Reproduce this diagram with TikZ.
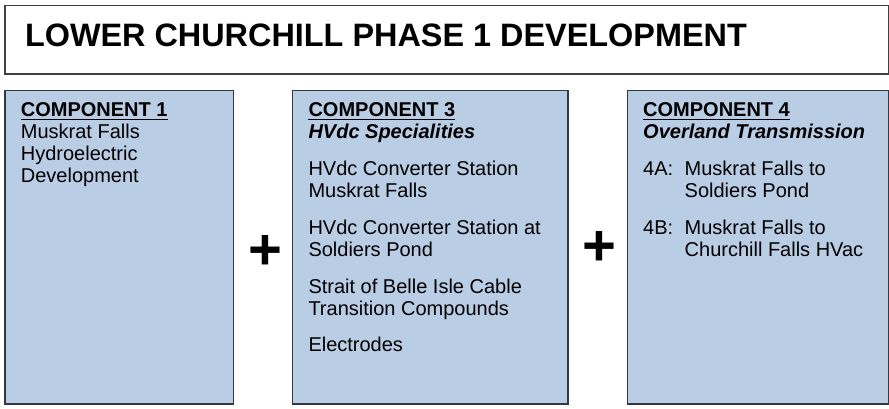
\documentclass[tikz,border=0pt]{standalone}
\usepackage{fontspec}
\setmainfont{Liberation Sans}
\usepackage{tikz}
\usetikzlibrary{positioning}
\definecolor{lcblue}{RGB}{185,205,229}
\definecolor{lcedge}{RGB}{52,56,64}
\definecolor{lcgray}{RGB}{64,64,64}

\begin{document}
\begin{tikzpicture}[x=1pt, y=1pt,
  hdr/.style={rectangle, draw=lcgray, line width=1.2pt, fill=white, anchor=north west,
              inner sep=0pt, minimum width=883.7pt, minimum height=68.5pt},
  comp/.style={rectangle, draw=lcedge, line width=1.2pt, fill=lcblue, anchor=north west,
               inner sep=0pt, minimum height=313.8pt},
  ttl/.style={anchor=base west, inner sep=0pt, font=\fontsize{32.4}{38}\selectfont\bfseries},
  ln/.style={anchor=base west, inner sep=0pt, font=\fontsize{20}{22}\selectfont},
  hd/.style={ln, font=\fontsize{20}{22}\selectfont\bfseries},
  sub/.style={ln, font=\fontsize{20}{22}\selectfont\bfseries\itshape},
  pls/.style={anchor=base, inner sep=0pt, font=\fontsize{58}{60}\selectfont\bfseries},
  ul/.style={line width=1.6pt, black}]

\useasboundingbox (0,0) rectangle (889,408);

\node[hdr] (top) at (4.3,403) {};
\node[ttl] (title) at ([shift={(20.5,-41.7)}]top.north west) {LOWER CHURCHILL PHASE 1 DEVELOPMENT};

\node[comp, minimum width=228.4pt] (c1) at (4.3,318.5) {};
\node[comp, minimum width=275.6pt] (c3) at (291.7,318.5) {};
\node[comp, minimum width=261.3pt] (c4) at (626.7,318.5) {};

\node[hd] (c1h) at ([shift={(16.4,-26.5)}]c1.north west) {COMPONENT 1};
\node[below=22pt of c1h.base west, ln] (c1a) {Muskrat Falls};
\node[below=22pt of c1a.base west, ln] (c1b) {Hydroelectric};
\node[below=22pt of c1b.base west, ln] (c1c) {Development};

\node[hd] (c3h) at ([shift={(16.6,-26.5)}]c3.north west) {COMPONENT 3};
\node[below=22pt of c3h.base west, sub] (c3s) {HVdc Specialities};
\node[below=37pt of c3s.base west, ln] (c3a) {HVdc Converter Station};
\node[below=22pt of c3a.base west, ln] (c3b) {Muskrat Falls};
\node[below=37pt of c3b.base west, ln] (c3c) {HVdc Converter Station at};
\node[below=22pt of c3c.base west, ln] (c3d) {Soldiers Pond};
\node[below=37pt of c3d.base west, ln] (c3e) {Strait of Belle Isle Cable};
\node[below=22pt of c3e.base west, ln] (c3f) {Transition Compounds};
\node[below=36pt of c3f.base west, ln] (c3g) {Electrodes};

\node[hd] (c4h) at ([shift={(16.3,-26.5)}]c4.north west) {COMPONENT 4};
\node[below=22pt of c4h.base west, sub] (c4s) {Overland Transmission};
\node[below=37pt of c4s.base west, ln] (c4a) {4A:};
\node[right=41.5pt of c4a.base west, ln] (c4a2) {Muskrat Falls to};
\node[below=22pt of c4a2.base west, ln] (c4b) {Soldiers Pond};
\node[below=59pt of c4a.base west, ln] (c4c) {4B:};
\node[right=41.5pt of c4c.base west, ln] (c4c2) {Muskrat Falls to};
\node[below=22pt of c4c2.base west, ln] (c4d) {Churchill Falls HVac};

\draw[ul] ([yshift=-3.3pt]c1h.base west) -- ([yshift=-3.3pt]c1h.base east);
\draw[ul] ([yshift=-3.3pt]c3h.base west) -- ([yshift=-3.3pt]c3h.base east);
\draw[ul] ([yshift=-3.3pt]c4h.base west) -- ([yshift=-3.3pt]c4h.base east);

\node[pls] (p1) at (265.5,138.2) {+};
\node[pls] (p2) at (599.7,143) {+};
\end{tikzpicture}
\end{document}
